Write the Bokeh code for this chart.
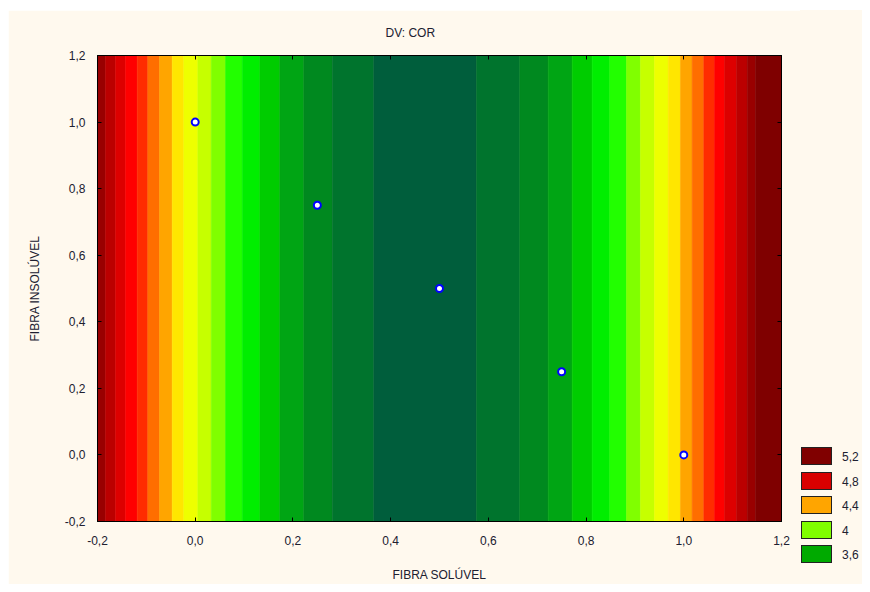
from bokeh.plotting import figure
from bokeh.layouts import row
from bokeh.models import (ColumnDataSource, FixedTicker, CustomJSTickFormatter, LinearAxis,
                          Range1d, Div)
from bokeh.embed import file_html
from bokeh.resources import INLINE

# ---- data ----
# x boundaries of the constant-colour bands of the fitted COR surface (left -> right)
band_edges = [-0.2, -0.1836, -0.1632, -0.1427, -0.1187, -0.0971, -0.0731, -0.0471, -0.0234,
              0.0053, 0.0327, 0.0620, 0.0962, 0.1322, 0.1731, 0.2222, 0.2804, 0.3655,
              0.5757, 0.6643, 0.7224, 0.7715, 0.8124, 0.8485, 0.8827, 0.9113, 0.9400,
              0.9680, 0.9932, 1.0171, 1.0409, 1.0628, 1.0833, 1.1078, 1.1297, 1.1467, 1.2]
# contour level index of each band (0 = lowest, centre)
band_level = [17, 16, 15, 14, 13, 12, 11, 10, 9, 8, 7, 6, 5, 4, 3, 2, 1,
              0,
              1, 2, 3, 4, 5, 6, 7, 8, 9, 10, 11, 12, 13, 14, 15, 16, 17, 18]
level_colors = ["#005E3C", "#00742D", "#00891F", "#00A514", "#00CC00", "#00EE00",
                "#22FF00", "#80FF00", "#C6FF00", "#EEFF00", "#FFE600", "#FFA500",
                "#FF6E00", "#FF2C00", "#FF0000", "#DD0000", "#BB0000", "#990000", "#7F0000"]

design_x = [0.0, 0.25, 0.5, 0.75, 1.0]
design_y = [1.0, 0.75, 0.5, 0.25, 0.0]

legend_labels = ["5,2", "4,8", "4,4", "4", "3,6"]
legend_colors = ["#800000", "#D80000", "#FFA500", "#80FF00", "#00AA00"]

ticks = [-0.2, 0.0, 0.2, 0.4, 0.6, 0.8, 1.0, 1.2]

BG = "#FFF9EE"
TXT = "#202030"
FONT = "Liberation Sans"

p = figure(frame_width=684, frame_height=466, min_border_left=89, min_border_right=19,
           min_border_top=45, min_border_bottom=63,
           x_range=Range1d(-0.2, 1.2), y_range=Range1d(-0.2, 1.2),
           output_backend="svg", toolbar_location=None, tools="",
           background_fill_color=BG, border_fill_color=BG,
           title="DV: COR")
p.margin = (10, 0, 0, 8)
p.outline_line_color = "black"
p.outline_line_width = 1
p.grid.visible = False

p.title.align = "left"
p.title.offset = 288
p.title.standoff = 28
p.title.vertical_align = "top"
p.title.text_font = FONT
p.title.text_font_size = "12px"
p.title.text_font_style = "normal"
p.title.text_color = TXT

src = ColumnDataSource(dict(
    left=band_edges[:-1], right=band_edges[1:],
    color=[level_colors[i] for i in band_level]))
p.quad(left="left", right="right", bottom=-0.2, top=1.2, fill_color="color",
       line_color="color", line_width=0.5, source=src)

p.scatter(design_x, design_y, size=7, fill_color="white", line_color="#0000FF", line_width=2)

fmt = CustomJSTickFormatter(code="return tick.toFixed(1).replace('.', ',');")
for ax in (p.xaxis[0], p.yaxis[0]):
    ax.ticker = FixedTicker(ticks=ticks)
    ax.formatter = fmt
    ax.major_tick_in = 4
    ax.major_tick_out = 0
    ax.minor_tick_line_color = None
    ax.axis_line_color = "black"
    ax.major_tick_line_color = "black"
    ax.major_label_text_font = FONT
    ax.major_label_text_font_size = "12px"
    ax.major_label_text_color = TXT
    ax.axis_label_text_font = FONT
    ax.axis_label_text_font_size = "12px"
    ax.axis_label_text_font_style = "normal"
    ax.axis_label_text_color = TXT

p.xaxis.axis_label = "FIBRA SOLÚVEL"
p.yaxis.axis_label = "FIBRA INSOLÚVEL"
p.xaxis.major_label_standoff = 14
p.yaxis.major_label_standoff = 12
p.xaxis.axis_label_standoff = 20
p.yaxis.axis_label_standoff = 20

blank = CustomJSTickFormatter(code="return '';")
for loc in ("above", "right"):
    a = LinearAxis(ticker=FixedTicker(ticks=ticks), formatter=blank,
                   major_tick_in=4, major_tick_out=0,
                   minor_tick_line_color=None, axis_line_color="black",
                   major_label_standoff=0)
    p.add_layout(a, loc)

# legend panel to the right of the plot, built from the legend arrays
parts = []
for i, (lab, col) in enumerate(zip(legend_labels, legend_colors)):
    top = 437 + i * 24.5
    parts.append(
        f'<div style="position:absolute;left:1px;top:{top}px;width:31px;height:18px;'
        f'background:{col};border:1px solid #222222;"></div>'
        f'<div style="position:absolute;left:42px;top:{top + 2}px;height:16px;line-height:16px;'
        f'font-family:\'{FONT}\';font-size:12px;color:{TXT};white-space:nowrap;">{lab}</div>')
html = (f'<div style="position:relative;width:62px;height:574px;background:{BG};">'
        + "".join(parts) + '</div>')
legend_panel = Div(text=html, width=62, height=574, margin=(10, 0, 0, 0))

layout = row(p, legend_panel, spacing=0)
open("out.html", "w").write(file_html(layout, INLINE))
